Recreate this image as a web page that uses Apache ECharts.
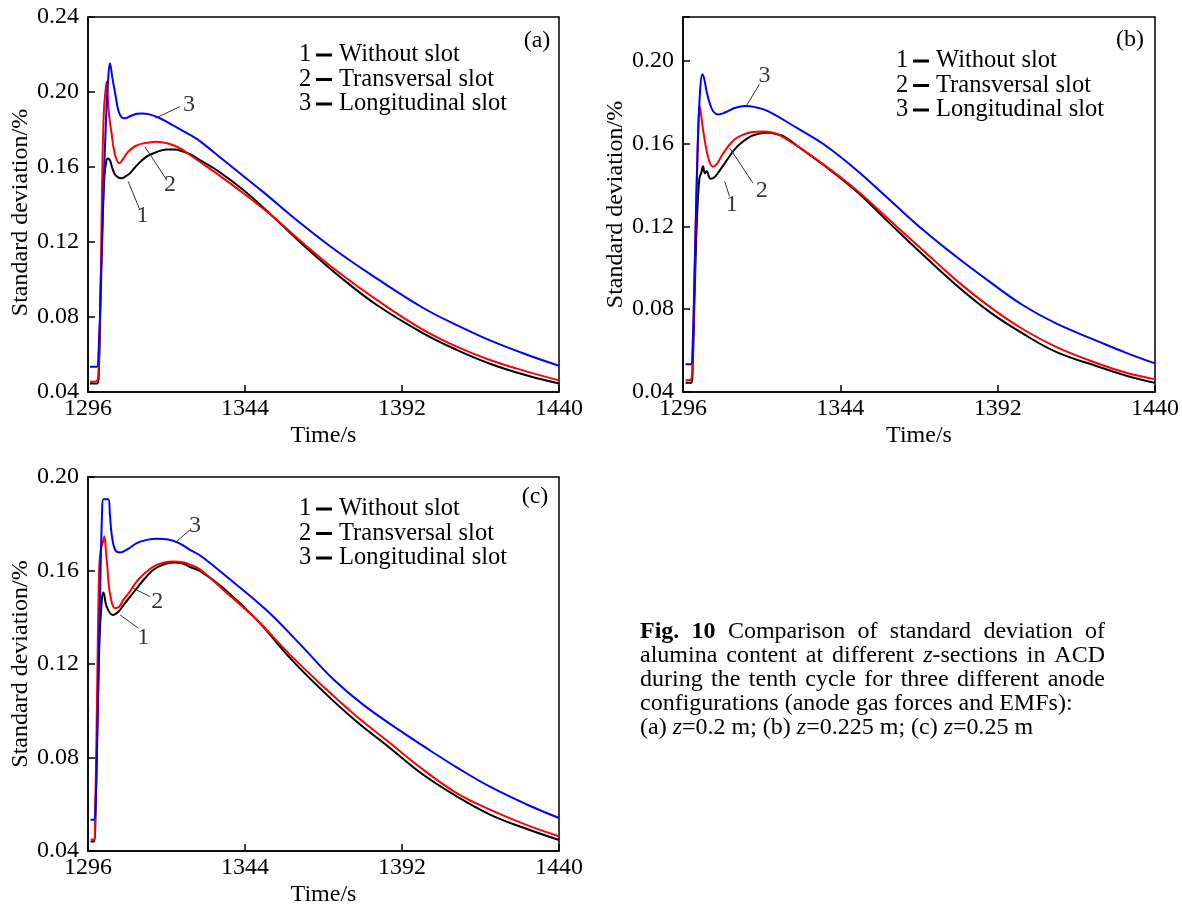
<!DOCTYPE html>
<html><head><meta charset="utf-8">
<script src="https://cdn.jsdelivr.net/npm/echarts@6/dist/echarts.min.js"></script>
<style>html,body{margin:0;padding:0;background:#fff}#c{width:1182px;height:910px}</style>
</head><body><div id="c"></div>
<script>
// ---------------- data ----------------
const xTicks = [1296, 1344, 1392, 1440];
const panelTags = ['(a)', '(b)', '(c)'];
const curveNames = ['Without slot', 'Transversal slot', 'Longitudinal slot'];
const curveIds = ['1', '2', '3'];
const yRanges = [[0.04, 0.24], [0.04, 0.221], [0.04, 0.20]];

// panel (a) z=0.2 m  : [time s, std dev %]
const a1 = [[1296.6,0.0445],[1298.8,0.0445],[1299.3,0.05],[1299.8,0.09],[1300.4,0.13],[1301,0.155],[1301.6,0.163],[1302,0.1646],[1302.7,0.1637],[1303.5,0.159],[1304.5,0.1555],[1306.3,0.154],[1307.5,0.155],[1308.8,0.1566],[1311,0.161],[1313.9,0.1655],[1317,0.168],[1320,0.1694],[1322.5,0.1694],[1325.1,0.1682],[1327.2,0.1668],[1330.2,0.1637],[1335.3,0.1584],[1343.5,0.1477],[1352.6,0.1335],[1361.8,0.1184],[1373,0.1015],[1384.3,0.0864],[1398.5,0.0713],[1408.7,0.0625],[1418.9,0.0551],[1430,0.0489],[1440,0.0445]];
const a2 = [[1296.6,0.0455],[1298.8,0.046],[1299.3,0.055],[1299.8,0.09],[1300.3,0.15],[1300.8,0.188],[1301.3,0.2],[1301.7,0.2055],[1302.3,0.19],[1303.2,0.178],[1304.2,0.167],[1305.6,0.162],[1306.8,0.1645],[1308.3,0.1682],[1310.5,0.1712],[1312.9,0.1726],[1317,0.1735],[1320.5,0.1725],[1324.1,0.17],[1327.2,0.1664],[1330.2,0.1628],[1335.3,0.1566],[1343.5,0.146],[1352.6,0.1335],[1361.8,0.1193],[1373,0.1033],[1384.3,0.0891],[1398.5,0.0731],[1408.7,0.0642],[1418.9,0.0571],[1430,0.051],[1440,0.0462]];
const a3 = [[1296.6,0.0535],[1298.7,0.0535],[1299.2,0.06],[1300,0.1],[1300.8,0.15],[1301.5,0.185],[1302.1,0.205],[1302.7,0.2153],[1303.5,0.207],[1304.3,0.1993],[1305.3,0.19],[1306.3,0.1865],[1307.3,0.186],[1309,0.1872],[1311,0.1884],[1312.5,0.1886],[1314.5,0.1882],[1318,0.186],[1322,0.1822],[1327.2,0.1771],[1330.2,0.1738],[1337.4,0.1637],[1349.6,0.1466],[1360.8,0.1303],[1372,0.1152],[1383.2,0.1018],[1398.5,0.0848],[1408.7,0.0757],[1418.9,0.0675],[1430,0.06],[1440,0.054]];

// panel (b) z=0.225 m
const b1 = [[1296.8,0.0445],[1298.5,0.0445],[1299,0.055],[1299.6,0.09],[1300.3,0.125],[1301,0.143],[1301.6,0.146],[1302.1,0.149],[1302.7,0.1455],[1303.2,0.1465],[1304.4,0.1429],[1305.5,0.1435],[1306.7,0.1458],[1309,0.151],[1311.7,0.157],[1314,0.1605],[1316.8,0.1635],[1319.5,0.1648],[1321.9,0.1651],[1324.5,0.1645],[1327,0.1632],[1331,0.1586],[1338.7,0.1498],[1348.9,0.1369],[1359,0.1215],[1369.2,0.1062],[1379.3,0.0917],[1389.5,0.0787],[1399.6,0.0683],[1409.8,0.0594],[1423,0.0521],[1431,0.048],[1440,0.0444]];
const b2 = [[1296.8,0.0457],[1298.5,0.046],[1299,0.06],[1299.6,0.1],[1300.2,0.14],[1300.7,0.168],[1301.1,0.178],[1301.6,0.173],[1302.1,0.1667],[1303.6,0.1538],[1305.1,0.1487],[1306.3,0.15],[1307.7,0.1538],[1309.5,0.158],[1311.7,0.1619],[1314,0.164],[1316.8,0.1654],[1320,0.1657],[1322.9,0.1654],[1326,0.1635],[1328.6,0.161],[1331,0.1586],[1338.7,0.15],[1348.9,0.1375],[1359,0.123],[1369.2,0.1084],[1379.3,0.094],[1389.5,0.0812],[1399.6,0.0704],[1409.8,0.0618],[1423,0.0535],[1431,0.0494],[1440,0.0461]];
const b3 = [[1296.8,0.0534],[1298.4,0.0534],[1298.9,0.06],[1299.7,0.11],[1300.5,0.16],[1301.2,0.185],[1301.9,0.1934],[1302.5,0.191],[1303.2,0.185],[1304.1,0.1797],[1305.2,0.1755],[1306.7,0.174],[1308.2,0.1745],[1309.7,0.1756],[1312,0.1772],[1314.8,0.178],[1318,0.1775],[1321.9,0.1756],[1331,0.1672],[1338.7,0.1598],[1348.9,0.1472],[1359,0.1328],[1369.2,0.1183],[1379.3,0.1054],[1389.5,0.0933],[1399.6,0.082],[1409.8,0.0731],[1423,0.0642],[1431,0.059],[1440,0.0538]];

// panel (c) z=0.25 m
const c1 = [[1296.8,0.0441],[1297.8,0.0441],[1298.2,0.05],[1298.8,0.09],[1299.5,0.13],[1300.2,0.147],[1300.7,0.1506],[1301.7,0.1446],[1303.5,0.141],[1305.3,0.1424],[1307,0.1455],[1309,0.149],[1310.9,0.1524],[1313.5,0.1568],[1316,0.1603],[1319,0.1625],[1322.1,0.1634],[1325,0.163],[1327.2,0.1615],[1330.2,0.1598],[1337.4,0.1524],[1347.6,0.1389],[1357.8,0.1225],[1367.9,0.1083],[1378.1,0.0954],[1388.3,0.0841],[1398.5,0.0726],[1408.7,0.0634],[1418.9,0.0556],[1430,0.0495],[1440,0.0447]];
const c2 = [[1296.8,0.0449],[1297.8,0.0449],[1298.2,0.055],[1298.8,0.11],[1299.4,0.16],[1299.9,0.169],[1300.5,0.172],[1301,0.1745],[1301.5,0.168],[1301.9,0.1617],[1302.7,0.1503],[1304.3,0.1439],[1305.5,0.1445],[1306.8,0.1474],[1308.8,0.151],[1310.9,0.1553],[1313.5,0.159],[1316,0.1617],[1319,0.1633],[1322.1,0.1638],[1325,0.1635],[1327.2,0.1625],[1330.2,0.1605],[1337.4,0.1517],[1347.6,0.1389],[1357.8,0.1239],[1367.9,0.1104],[1378.1,0.0976],[1388.3,0.0862],[1398.5,0.0748],[1408.7,0.0648],[1418.9,0.0577],[1430,0.0512],[1440,0.0463]];
const c3 = [[1296.8,0.0534],[1297.8,0.0534],[1298.3,0.06],[1299,0.1],[1299.7,0.15],[1300.3,0.185],[1300.7,0.1905],[1302.2,0.1905],[1302.7,0.184],[1303.2,0.1759],[1304.3,0.1688],[1305.8,0.1677],[1308,0.169],[1310.9,0.1717],[1314,0.1731],[1317,0.1736],[1320.5,0.1733],[1324.1,0.1715],[1327.2,0.1688],[1330.2,0.1665],[1337.4,0.1585],[1350.6,0.143],[1360.8,0.1285],[1371,0.1135],[1380.2,0.1025],[1391.4,0.0915],[1400.6,0.083],[1408.7,0.0758],[1418.9,0.0675],[1430,0.06],[1440,0.0541]];

// curve call-outs: [from t, from v, to t, to v, label t, label v, id]
const calloutsA = [[1316.5,0.186,1324.1,0.1922,1326.9,0.193,'3'],[1313.4,0.1708,1320.1,0.153,1321.1,0.1504,'2'],[1308.3,0.1522,1311.9,0.137,1312.7,0.1339,'1']];
const calloutsB = [[1315.3,0.178,1319.3,0.1885,1320.9,0.1929,'3'],[1310.2,0.1579,1317.3,0.1409,1320,0.1373,'2'],[1308.7,0.1417,1310.2,0.1344,1310.9,0.1304,'1']];
const calloutsC = [[1323.1,0.1724,1327.2,0.1774,1328.7,0.1791,'3'],[1309.9,0.1524,1315,0.1488,1317.2,0.1467,'2'],[1305.8,0.141,1311.4,0.1353,1312.9,0.1312,'1']];

const captionLines = [
  '{b|Fig.} {b|10} Comparison of standard deviation of',
  'alumina content at different {i|z}-sections in ACD',
  'during the tenth cycle for three different anode',
  'configurations (anode gas forces and EMFs):',
  '(a) {i|z}=0.2 m; (b) {i|z}=0.225 m; (c) {i|z}=0.25 m'
];

// ---------------- layout / style ----------------
const FONT = '"Liberation Serif", "Times New Roman", serif';
const COLORS = ['#000000', '#ff0000', '#0000ff'];
const grids = [
  {left: 88, top: 17, width: 471, height: 375},
  {left: 683, top: 17, width: 473, height: 375},
  {left: 88, top: 477, width: 471, height: 374}
];
const legendPos = [{x: 299, y: 55}, {x: 896, y: 61}, {x: 299, y: 509}];
const tagPos = [{x: 537, y: 41}, {x: 1130, y: 40}, {x: 535, y: 497}];
const yNameShift = [16, 0, 0];
const panelData = [[a1, a2, a3], [b1, b2, b3], [c1, c2, c3]];
const panelCallouts = [calloutsA, calloutsB, calloutsC];
const LEG_FONT = 24.5, AX_FONT = 24;

const chart = echarts.init(document.getElementById('c'), null, {renderer: 'canvas'});

const xAxes = [], yAxes = [], series = [], graphics = [];
grids.forEach((g, p) => {
  xAxes.push({
    type: 'value', gridIndex: p, min: xTicks[0], max: xTicks[xTicks.length - 1], interval: 48,
    name: 'Time/s', nameLocation: 'middle', nameGap: 32,
    nameTextStyle: {fontFamily: FONT, fontSize: AX_FONT, color: '#000'},
    axisLine: {show: true, lineStyle: {color: '#000', width: 1.5}},
    axisTick: {show: true, inside: true, length: 7, lineStyle: {color: '#000', width: 1.5}},
    axisLabel: {fontFamily: FONT, fontSize: AX_FONT, color: '#000', margin: 5, formatter: v => String(v)},
    splitLine: {show: false}
  });
  yAxes.push({
    type: 'value', gridIndex: p, min: yRanges[p][0], max: yRanges[p][1], interval: 0.04,
    name: 'Standard deviation/%', nameLocation: 'middle', nameGap: 55, nameRotate: 90,
    nameTextStyle: {fontFamily: FONT, fontSize: AX_FONT, color: '#000', padding: [0, yNameShift[p], 0, 0]},
    axisLine: {show: true, lineStyle: {color: '#000', width: 1.5}},
    axisTick: {show: true, inside: true, length: 7, lineStyle: {color: '#000', width: 1.5}},
    axisLabel: {
      fontFamily: FONT, fontSize: AX_FONT, color: '#000', margin: 9,
      formatter: v => (Math.abs(v / 0.04 - Math.round(v / 0.04)) < 1e-6 ? v.toFixed(2) : '')
    },
    splitLine: {show: false}
  });
  panelData[p].forEach((d, k) => {
    series.push({
      type: 'line', name: curveNames[k], xAxisIndex: p, yAxisIndex: p, data: d,
      showSymbol: false, smooth: 0.4,
      lineStyle: {color: COLORS[k], width: 2}, z: 3 + k
    });
  });
  series.push({
    type: 'lines', coordinateSystem: 'cartesian2d', xAxisIndex: p, yAxisIndex: p,
    data: panelCallouts[p].map(c => ({coords: [[c[0], c[1]], [c[2], c[3]]]})),
    lineStyle: {color: '#333', width: 1, opacity: 1}, symbol: 'none', z: 6
  });
  series.push({
    type: 'scatter', xAxisIndex: p, yAxisIndex: p, symbolSize: 0,
    data: panelCallouts[p].map(c => ({value: [c[4], c[5]], name: c[6]})),
    label: {show: true, position: 'inside', formatter: '{b}', fontFamily: FONT, fontSize: 24, color: '#000'},
    z: 7
  });
  const lp = legendPos[p];
  for (let i = 0; i < 3; i++) {
    const y = lp.y + i * 24.5;
    graphics.push({type: 'text', x: lp.x, y: y, style: {text: curveIds[i], font: LEG_FONT + 'px ' + FONT, fill: '#000', textVerticalAlign: 'middle'}});
    graphics.push({type: 'rect', shape: {x: lp.x + 17, y: y - 1.5, width: 16, height: 3}, style: {fill: '#000'}});
    graphics.push({type: 'text', x: lp.x + 40, y: y, style: {text: curveNames[i], font: LEG_FONT + 'px ' + FONT, fill: '#000', textVerticalAlign: 'middle'}});
  }
  graphics.push({type: 'text', x: tagPos[p].x, y: tagPos[p].y, style: {text: panelTags[p], font: '24px ' + FONT, fill: '#000', textAlign: 'center', textVerticalAlign: 'middle'}});
});

// caption (justified paragraph)
const capFont = 24, capX = 640, capRight = 1105, capY = 632, capLH = 24;
const mctx = document.createElement('canvas').getContext('2d');
function runs(word) {
  const out = []; const re = /\{(\w)\|([^}]*)\}|([^{]+)/g; let m;
  while ((m = re.exec(word))) { if (m[3]) out.push([m[3], 'n']); else out.push([m[2], m[1]]); }
  return out;
}
function fontFor(s) { return (s === 'b' ? 'bold ' : s === 'i' ? 'italic ' : '') + capFont + 'px ' + FONT; }
function wordWidth(rs) { let w = 0; rs.forEach(r => { mctx.font = fontFor(r[1]); w += mctx.measureText(r[0]).width; }); return w; }
captionLines.forEach((line, li) => {
  const words = line.split(' ').map(runs);
  const widths = words.map(wordWidth);
  mctx.font = fontFor('n');
  const sp = mctx.measureText(' ').width;
  const total = widths.reduce((a, b) => a + b, 0);
  const justify = li < 3;
  const gap = justify ? Math.max(sp * 0.6, (capRight - capX - total) / (words.length - 1)) : sp;
  let x = capX;
  words.forEach(rs => {
    rs.forEach(r => {
      mctx.font = fontFor(r[1]);
      graphics.push({type: 'text', x: x, y: capY + li * capLH, style: {text: r[0], font: fontFor(r[1]), fill: '#000', textVerticalAlign: 'middle'}});
      x += mctx.measureText(r[0]).width;
    });
    x += gap;
  });
});

chart.setOption({
  animation: false,
  backgroundColor: '#fff',
  grid: grids.map(g => Object.assign({show: true, borderColor: '#000', borderWidth: 1.5, backgroundColor: 'transparent'}, g)),
  xAxis: xAxes, yAxis: yAxes, series: series, graphic: graphics
});
</script></body></html>
